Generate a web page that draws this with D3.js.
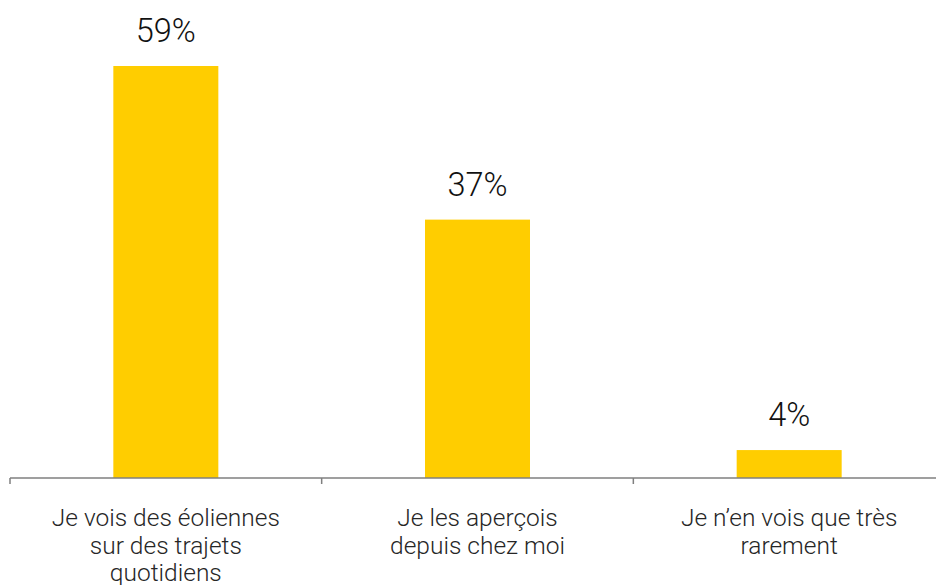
<!DOCTYPE html>
<html>
<head>
<meta charset="utf-8">
<script src="https://cdn.jsdelivr.net/npm/d3@7"></script>
<style>
  body { margin: 0; background: #fff; }
  svg { display: block; }
</style>
</head>
<body>
<div id="chart"></div>
<script>
// data
var categories = [
  ["Je vois des éoliennes", "sur des trajets", "quotidiens"],
  ["Je les aperçois", "depuis chez moi"],
  ["Je n\u2019en vois que très", "rarement"]
];
var values = [59, 37, 4];

var width = 936, height = 585;
var baseY = 478, topY = 66;

var svg = d3.select("#chart").append("svg")
    .attr("width", width)
    .attr("height", height);

var band = d3.scaleBand()
  .domain(d3.range(values.length))
  .range([10, 945]);

var yScale = d3.scaleLinear()
  .domain([0, 59])
  .range([baseY, topY]);

// bars
svg.selectAll(".bar")
  .data(values)
 .enter()
  .append("rect")
  .attr("class", "bar")
  .attr("x", function(d, i) { return band(i) + band.bandwidth() / 2 - 52.5; })
  .attr("width", 105)
  .attr("y", function(d) { return yScale(d); })
  .attr("height", function(d) { return baseY - yScale(d); })
  .style("fill", "#ffcd00");

// value labels
svg.selectAll(".valueLabel")
  .data(values)
 .enter()
  .append("text")
  .attr("class", "valueLabel")
  .attr("text-anchor", "middle")
  .attr("x", function(d, i) { return band(i) + band.bandwidth() / 2; })
  .attr("y", function(d) { return yScale(d) - 24; })
  .text(function(d) { return d + "%"; })
  .style("fill", "#111")
  .style("font-size", "32.5px")
  .style("font-weight", 300)
  .style("font-family", "Roboto");

// x axis
var xAxis = d3.axisBottom()
  .scale(band)
  .tickSize(0)
  .tickFormat("");

var axisG = svg.append("g")
  .attr("class", "x axis")
  .attr("transform", "translate(0," + baseY + ")")
  .call(xAxis);

axisG.select(".domain")
  .attr("d", "M10,0H945")
  .style("stroke", "#7f7f7f")
  .style("stroke-width", 1.5);

axisG.selectAll(".boundary")
  .data([0, 1, 2, 3])
 .enter()
  .append("line")
  .attr("class", "boundary")
  .attr("x1", function(d) { return d < 3 ? band(d) : band.range()[1]; })
  .attr("x2", function(d) { return d < 3 ? band(d) : band.range()[1]; })
  .attr("y1", 0)
  .attr("y2", 6)
  .style("stroke", "#7f7f7f")
  .style("stroke-width", 1.5);

// category labels
var catText = svg.selectAll(".catLabel")
  .data(categories)
 .enter()
  .append("text")
  .attr("class", "catLabel")
  .attr("text-anchor", "middle")
  .attr("y", 526)
  .style("fill", "#262626")
  .style("font-size", "24.5px")
  .style("font-weight", 300)
  .style("font-family", "Roboto");

catText.selectAll("tspan")
  .data(function(d, i) { return d.map(function(t) { return {t: t, i: i}; }); })
 .enter()
  .append("tspan")
  .attr("x", function(d) { return band(d.i) + band.bandwidth() / 2; })
  .attr("dy", function(d, j) { return j === 0 ? 0 : 27.5; })
  .text(function(d) { return d.t; });
</script>
</body>
</html>
